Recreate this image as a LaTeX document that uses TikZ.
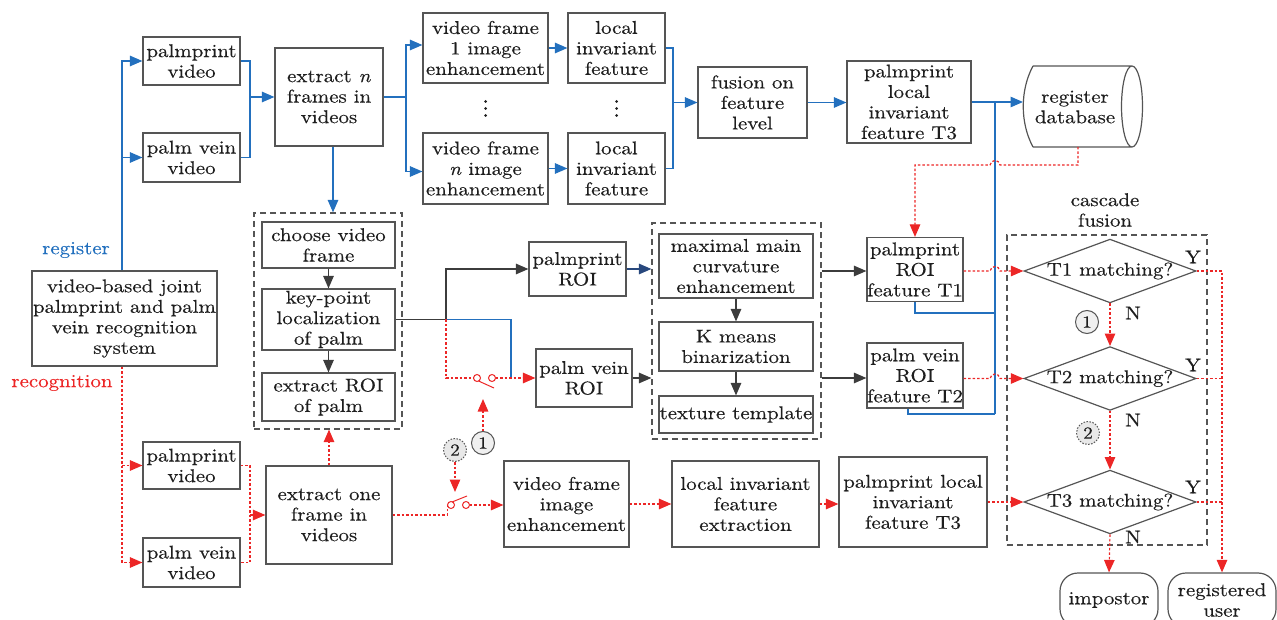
\documentclass[tikz,border=0pt]{standalone}
\usepackage{fontspec}
\setmainfont{lmroman10-regular}[Extension=.otf, FakeStretch=1.13, FakeBold=0.35, ItalicFont=lmroman10-italic, BoldFont=lmroman10-bold]
\usetikzlibrary{arrows.meta,shapes.geometric}
\definecolor{regblue}{RGB}{35,112,190}
\definecolor{recred}{RGB}{236,38,38}
\definecolor{boxgray}{RGB}{85,85,85}
\definecolor{darkarr}{RGB}{60,60,60}
\definecolor{navyarr}{RGB}{40,72,125}
\definecolor{txt}{RGB}{30,30,30}
\begin{document}
\begin{tikzpicture}[x=1pt,y=-1pt,
  lbl/.style={text=txt, inner sep=0pt, align=center, font=\fontsize{18.5}{20.5}\selectfont},
  box/.style={lbl, draw=boxgray, line width=1.2pt},
  sz/.style 2 args={minimum width=#1pt, minimum height=#2pt},
  tip/.style={-{Triangle[length=12.5pt,width=10.5pt]}},
  blu/.style={draw=regblue, line width=1.2pt},
  bluarr/.style={blu, tip},
  recline/.style={draw=recred, line width=1.2pt, dash pattern=on 2.5pt off 2pt},
  recarr/.style={recline, tip},
  darkln/.style={draw=darkarr, line width=1.2pt},
  darkarrow/.style={darkln, tip},
  navyarrow/.style={draw=navyarr, line width=1.2pt, tip},
  dbox/.style={draw=boxgray, line width=1.2pt, dash pattern=on 6pt off 4pt, inner sep=0pt},
  diam/.style={lbl, draw=boxgray, line width=1.2pt, shape=diamond, aspect=2.7, minimum width=166pt, minimum height=62pt},
  circ/.style={circle, draw=boxgray, line width=1pt, fill=gray!12, minimum size=23pt, inner sep=0pt, text=txt, font=\fontsize{17}{17}\selectfont},
  circd/.style={circ, dash pattern=on 1.5pt off 1.5pt, fill=gray!18},
  stad/.style={box, rounded corners=18pt},
  swc/.style={draw=recred, line width=1pt},
  vdot/.style={fill=txt, draw=none},
]
\useasboundingbox (0,0) rectangle (1277,620);

% ---------- register branch (top) ----------
\node[box, sz={97}{48}] (pv1) at (191.5,61) {palmprint\\video};
\node[box, sz={97}{49}] (vv1) at (191.5,157.5) {palm vein\\video};
\node[box, sz={108}{98}] (exn) at (329,97) {extract \textit{n}\\frames in\\videos};
\node[box, sz={125}{70}] (vf1) at (485.5,48) {video frame\\1 image\\enhancement};
\node[box, sz={125}{71}] (vfn) at (485.5,168.5) {video frame\\\textit{n} image\\enhancement};
\node[box, sz={97}{70}] (lf1) at (616.5,48) {local\\invariant\\feature};
\node[box, sz={97}{71}] (lfn) at (616.5,168.5) {local\\invariant\\feature};
\fill[vdot] (485.5,101.5) circle (1.5pt) (485.5,108.5) circle (1.5pt) (485.5,115.5) circle (1.5pt);
\fill[vdot] (616.5,101.5) circle (1.5pt) (616.5,108.5) circle (1.5pt) (616.5,115.5) circle (1.5pt);
\node[box, sz={109}{71}] (fus) at (752.5,102.5) {fusion on\\feature\\level};
\node[box, sz={124}{82}] (t3a) at (909,102) {palmprint\\local\\invariant\\feature T3};
\node[lbl] (db) at (1075,107) {register\\database};
\draw[draw=boxgray, line width=1.2pt]
  (1033,66) -- (1132,66) (1033,147) -- (1132,147)
  (1033,66) .. controls (1020,90) and (1020,123) .. (1033,147)
  (1132,106.5) ellipse [x radius=10.5pt, y radius=40.5pt];
\coordinate (dbw) at (1023,102);
\coordinate (dbs) at (1078,147);

% ---------- left ----------
\node[box, sz={185}{95}] (sys) at (124.5,318.5) {video-based joint\\palmprint and palm\\vein recognition\\system};
\node[lbl, text=regblue] (lreg) at (76,250) {register};
\node[lbl, text=recred] (lrec) at (62,383) {recognition};

% ---------- group 1 ----------
\node[dbox, sz={148}{216}] (grp1) at (328,321) {};
\node[box, sz={133}{46}] (cvf) at (328.5,245) {choose video\\frame};
\node[box, sz={133}{61}] (kpl) at (328.5,319.5) {key-point\\localization\\of palm};
\node[box, sz={133}{48}] (eroi) at (328.5,397) {extract ROI\\of palm};

% ---------- ROIs and group 2 ----------
\node[box, sz={97}{54}] (proi) at (577.5,269) {palmprint\\ROI};
\node[box, sz={96}{58}] (vroi) at (584,378) {palm vein\\ROI};
\node[dbox, sz={169}{216}] (grp2) at (736.5,331) {};
\node[box, sz={154}{64}] (mmc) at (736,266) {maximal main\\curvature\\enhancement};
\node[box, sz={154}{49}] (kmb) at (736,346.5) {K means\\binarization};
\node[box, sz={154}{37}] (tex) at (736,414.5) {texture template};
\node[box, sz={96}{64}] (f1) at (915,269.5) {palmprint\\ROI\\feature T1};
\node[box, sz={96}{65}] (f2) at (915,375.5) {palm vein\\ROI\\feature T2};

% ---------- cascade ----------
\node[lbl] (casc) at (1105,210) {cascade\\fusion};
\node[dbox, sz={200}{310}] (grp3) at (1107,390) {};
\node[diam] (d1) at (1110,271) {T1 matching?};
\node[diam] (d2) at (1110,378.5) {T2 matching?};
\node[diam] (d3) at (1110,502) {T3 matching?};
\node[lbl] (y1) at (1193,257) {Y};
\node[lbl] (y2) at (1193,365) {Y};
\node[lbl] (y3) at (1193,487) {Y};
\node[lbl] (n1) at (1133,313) {N};
\node[lbl] (n2) at (1133,420) {N};
\node[lbl] (n3) at (1133,537) {N};
\node[circ] (cc1) at (1087,322) {1};
\node[circd] (cc2) at (1088,433) {2};
\node[stad, sz={98}{54}] (imp) at (1109,600) {impostor};
\node[stad, sz={108}{54}] (reg) at (1222,600) {registered\\user};

% ---------- recognition branch (bottom) ----------
\node[box, sz={97}{47}] (pv2) at (191.5,465.5) {palmprint\\video};
\node[box, sz={97}{49}] (vv2) at (191.5,562.5) {palm vein\\video};
\node[box, sz={126}{98}] (ex1) at (329,515) {extract one\\frame in\\videos};
\node[box, sz={125}{86}] (vfe) at (566.5,504) {video frame\\image\\enhancement};
\node[box, sz={147}{86}] (lfe) at (745.5,504) {local invariant\\feature\\extraction};
\node[box, sz={148}{90}] (t3b) at (913,502) {palmprint local\\invariant\\feature T3};
\node[circ] (c1) at (483,443) {1};
\node[circd] (c2) at (455,450) {2};

% ---------- blue connectors ----------
\coordinate (trunk) at ([xshift=-2.5pt]sys.north);
\draw[bluarr] (trunk) |- (pv1.west);
\draw[bluarr] (trunk) |- (vv1.west);
\coordinate (m1) at (250,97);
\draw[blu] (pv1.east) -| (m1) |- (vv1.east);
\draw[bluarr] (m1) -- (exn.west);
\coordinate (s1) at (406,97);
\draw[blu] (exn.east) -- (s1);
\draw[bluarr] (s1) |- ([yshift=3pt]vf1.west);
\draw[bluarr] (s1) |- ([yshift=-3pt]vfn.west);
\draw[bluarr] (vf1) -- (lf1);
\draw[bluarr] (vfn) -- (lfn);
\coordinate (m2) at (673,102.5);
\draw[blu] (lf1.east) -| (m2) |- (lfn.east);
\draw[bluarr] (m2) -- (fus.west);
\draw[bluarr] (fus.east) -- (fus.east -| t3a.west);
\draw[bluarr] (t3a.east) -- (dbw);
\coordinate (bj) at (995,102);
\coordinate (bm) at (995,313);
\coordinate (bb) at (995,414);
\draw[blu] (bj) -- (bb);
\draw[blu] (f1.south) |- (bm);
\draw[blu] ([xshift=-7pt]f2.south) |- (bb);
\draw[bluarr] ([xshift=4pt]exn.south) -- ([xshift=4pt]exn.south |- grp1.north);

% ---------- dark connectors ----------
\draw[darkarrow] (cvf) -- (kpl);
\draw[darkarrow] (kpl) -- (eroi);
\coordinate (kj) at (446,319.5);
\draw[darkln] (kpl.east) -- (kj);
\draw[darkarrow] (kj) |- (proi.west);
\coordinate (vj) at (511,378);
\draw[blu] (kj) -| (vj);
\draw[navyarrow] (proi.east) -- (proi.east -| grp2.west);
\draw[darkarrow] (vroi.east) -- (vroi.east -| grp2.west);
\draw[darkarrow] (mmc) -- (kmb);
\draw[darkarrow] (kmb) -- (tex);
\draw[darkarrow] (grp2.east |- d1.west) -- (f1.west |- d1.west);
\draw[darkarrow] (grp2.east |- vroi.east) -- (f2.west |- vroi.east);

% ---------- switch 1 ----------
\coordinate (sw1l) at (473.5,378);
\coordinate (sw1r) at (495.5,378);
\draw[recline] (kj) |- (sw1l);
\draw[swc] (477,378) circle (3.5pt) (492,378) circle (3.5pt);
\draw[swc] (478.5,381) -- (494,388);
\draw[recarr] (sw1r) -- (vroi.west);
\coordinate (sw1b) at (483,399);
\draw[recarr] (c1.north) -- (sw1b);

% ---------- switch 2 ----------
\coordinate (sw2l) at (447.5,505);
\coordinate (sw2r) at (469.5,505);
\draw[recline] (ex1.east) -| (sw2l);
\draw[swc] (451,505) circle (3.5pt) (466,505) circle (3.5pt);
\draw[swc] (452,502) -- (467,496);
\draw[recarr] (sw2r) -- (vfe.west |- sw2r);
\coordinate (sw2t) at (455,492);
\draw[recarr] (c2.south) -- (sw2t);

% ---------- red connectors ----------
\coordinate (rtrunk) at ([xshift=-2.5pt]sys.south);
\draw[recarr] (rtrunk) |- (pv2.west);
\draw[recarr] (rtrunk) |- (vv2.west);
\coordinate (m3) at (250,515);
\draw[recline] (pv2.east) -| (m3) |- (vv2.east);
\draw[recarr] (m3) -- (ex1.west);
\draw[recarr] (ex1.north) -- (ex1.north |- grp1.south);
\draw[recarr] (vfe.east) -- (vfe.east -| lfe.west);
\draw[recarr] (lfe.east) -- (lfe.east -| t3b.west);
\draw[recarr] (t3b.east) -- (t3b.east -| d3.west);
\coordinate (dbbend) at (1078,165);
\draw[recarr] (dbs) -- (dbbend) -- ([xshift=5pt]dbbend -| bj)
  .. controls +(-1,-6) and +(1,-6) .. ([xshift=-5pt]dbbend -| bj) -| (f1.north);
\draw[recarr] (f1.east |- d1.west) -- ([xshift=-5pt]bj |- d1.west)
  .. controls +(1,-6) and +(-1,-6) .. ([xshift=5pt]bj |- d1.west) -- (d1.west);
\draw[recarr] (f2.east |- d2.west) -- ([xshift=-5pt]bj |- d2.west)
  .. controls +(1,-6) and +(-1,-6) .. ([xshift=5pt]bj |- d2.west) -- (d2.west);
\draw[recarr] (d1.south) -- (d2.north);
\draw[recarr] (d2.south) -- (d3.north);
\draw[recarr] (d3.south) -- (imp.north);
\draw[recarr] (d1.east) -| (reg.north);
\draw[recline] (d2.east) -- (d2.east -| reg.north);
\draw[recline] (d3.east) -- (d3.east -| reg.north);
\end{tikzpicture}
\end{document}
